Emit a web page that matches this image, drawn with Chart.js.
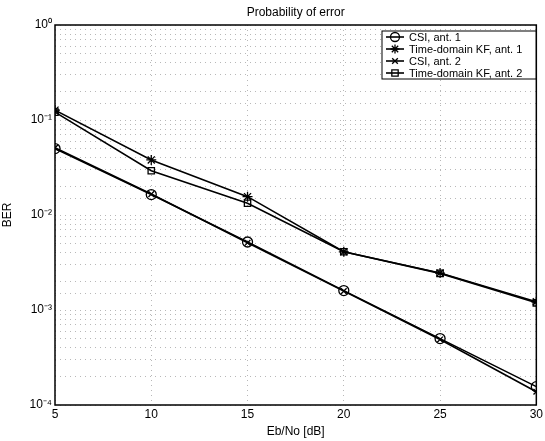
<!DOCTYPE html>
<html>
<head>
<meta charset="utf-8">
<script src="https://cdn.jsdelivr.net/npm/chart.js@4.4.0/dist/chart.umd.min.js"></script>
<style>
  html, body { margin: 0; padding: 0; background: #fff; }
  #wrap { width: 545px; height: 441px; }
</style>
</head>
<body>
<div id="wrap"><canvas id="ber-chart" width="545" height="441"></canvas></div>
<script>
const snrDb = [5, 10, 15, 20, 25, 30];
const csiAnt1 = [0.050, 0.0164, 0.0052, 0.0016, 0.00050, 0.000156];
const kfAnt1 = [0.127, 0.038, 0.0156, 0.0041, 0.00245, 0.00122];
const csiAnt2 = [0.051, 0.0166, 0.0051, 0.00158, 0.00049, 0.000138];
const kfAnt2 = [0.121, 0.0292, 0.0133, 0.0041, 0.00243, 0.00119];
const seriesLabels = ['CSI, ant. 1', 'Time-domain KF, ant. 1', 'CSI, ant. 2', 'Time-domain KF, ant. 2'];
const seriesMarkers = ['circle', 'star', 'crossRot', 'rect'];
const xTicks = [5, 10, 15, 20, 25, 30];
const yDecades = ['10⁰', '10⁻¹', '10⁻²', '10⁻³', '10⁻⁴'];

const fontFam = '"Liberation Sans", Arial, sans-serif';
const gridDots = 'rgba(0,0,0,0.28)';

function makeSet(label, values, marker, size) {
    return {
        label,
        data: values.map((v, i) => ({x: snrDb[i], y: v})),
        borderColor: '#000',
        backgroundColor: '#000',
        borderWidth: 1.6,
        pointStyle: marker,
        pointRadius: size,
        pointBorderWidth: 1.3,
        pointBackgroundColor: 'rgba(0,0,0,0)',
        pointBorderColor: '#000',
        fill: false,
        tension: 0
    };
}

const sizes = [5, 5, 4, 4.5];
const allSeries = [csiAnt1, kfAnt1, csiAnt2, kfAnt2];

// box round the plot, title and the legend inside the axes
const framePlugin = {
    id: 'frame',
    afterDraw(chart) {
        const {ctx, chartArea: a} = chart;
        ctx.save();
        ctx.strokeStyle = '#000';
        ctx.lineWidth = 1.5;
        ctx.strokeRect(a.left, a.top, a.right - a.left, a.bottom - a.top);

        ctx.fillStyle = '#000';
        ctx.font = '12px ' + fontFam;
        ctx.textAlign = 'center';
        ctx.textBaseline = 'bottom';
        ctx.fillText('Probability of error', (a.left + a.right) / 2, a.top - 6);

        // legend
        const bx = 382, by = 31, bw = 154, bh = 48;
        ctx.fillStyle = '#fff';
        ctx.fillRect(bx, by, bw, bh);
        ctx.lineWidth = 1;
        ctx.strokeRect(bx, by, bw, bh);
        chart.data.datasets.forEach((ds, i) => {
            const y = by + 6 + i * 12;
            ctx.strokeStyle = '#000';
            ctx.lineWidth = 1.6;
            ctx.beginPath();
            ctx.moveTo(bx + 4, y);
            ctx.lineTo(bx + 22, y);
            ctx.stroke();
            ctx.lineWidth = 1.3;
            ctx.fillStyle = 'rgba(0,0,0,0)';
            Chart.helpers.drawPoint(ctx, {
                pointStyle: ds.pointStyle,
                radius: Math.min(ds.pointRadius, 4.5),
                rotation: 0,
                borderWidth: 1.3
            }, bx + 13, y);
            ctx.fillStyle = '#000';
            ctx.font = '11px ' + fontFam;
            ctx.textAlign = 'left';
            ctx.textBaseline = 'middle';
            ctx.fillText(ds.label, bx + 27, y + 0.5);
        });
        ctx.restore();
    }
};

new Chart(document.getElementById('ber-chart').getContext('2d'), {
    type: 'line',
    data: {
        datasets: allSeries.map((vals, i) => makeSet(seriesLabels[i], vals, seriesMarkers[i], sizes[i]))
    },
    options: {
        responsive: false,
        animation: false,
        layout: {padding: {left: 0, right: 7, top: 25, bottom: 0}},
        scales: {
            x: {
                type: 'linear',
                min: 5,
                max: 30,
                afterBuildTicks: s => { s.ticks = xTicks.map(v => ({value: v})); },
                afterFit: s => { s.height = 36; },
                ticks: {color: '#000', font: {size: 12, family: fontFam}, padding: 2, maxRotation: 0},
                grid: {color: gridDots, tickLength: 0, drawTicks: false},
                border: {display: false, dash: [1, 4]},
                title: {display: true, text: 'Eb/No [dB]', color: '#000', font: {size: 12, family: fontFam}, padding: {top: 0, bottom: 2}}
            },
            y: {
                type: 'logarithmic',
                min: 1e-4,
                max: 1,
                afterFit: s => { s.width = 55; },
                ticks: {
                    color: '#000',
                    font: {size: 12, family: fontFam},
                    autoSkip: false,
                    padding: 3,
                    callback: v => {
                        const e = Math.log10(v);
                        if (Math.abs(e - Math.round(e)) > 1e-6) return '';
                        return yDecades[-Math.round(e)];
                    }
                },
                grid: {color: gridDots, tickLength: 0, drawTicks: false},
                border: {display: false, dash: [1, 4]},
                title: {display: true, text: 'BER', color: '#000', font: {size: 12, family: fontFam}, padding: {top: 0, bottom: 4}}
            }
        },
        plugins: {
            legend: {display: false},
            title: {display: false},
            tooltip: {enabled: false}
        }
    },
    plugins: [framePlugin]
});
</script>
</body>
</html>
